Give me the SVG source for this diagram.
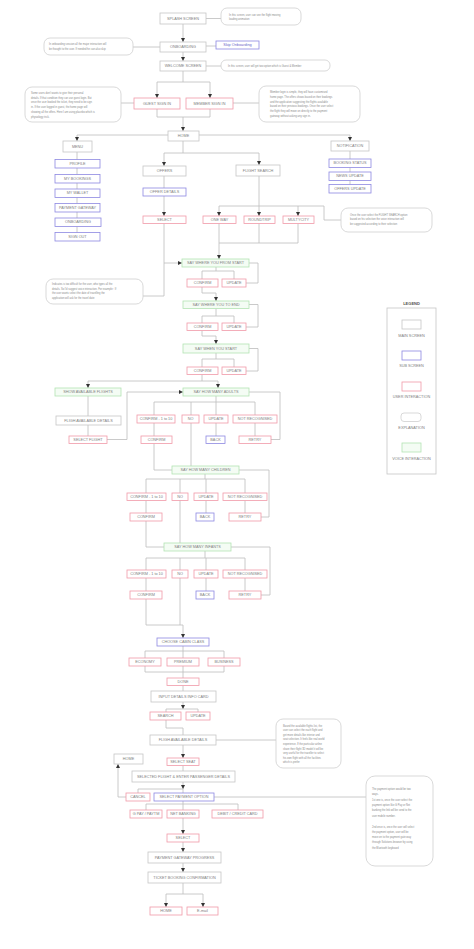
<svg xmlns="http://www.w3.org/2000/svg" width="474" height="949" viewBox="0 0 474 949">
<style>
.g{fill:#fff;stroke:#c6c6c6;stroke-width:0.8}
.b{fill:#fff;stroke:#8d88e2;stroke-width:0.8}
.r{fill:#fff;stroke:#f19aa8;stroke-width:0.8}
.v{fill:#f4fcf4;stroke:#b3e3b3;stroke-width:0.8}
.e{fill:#fff;stroke:#cfcfcf;stroke-width:0.8}
.c{fill:none;stroke:#bdbdbd;stroke-width:0.8}
.t{font-family:"Liberation Sans",Arial,sans-serif;font-size:3.8px;fill:#808080;text-anchor:middle;dominant-baseline:central}
.n{font-family:"Liberation Sans",Arial,sans-serif;font-size:2.6px;fill:#8a8a8a}
.h{font-family:"Liberation Sans",Arial,sans-serif;font-size:4px;font-weight:bold;fill:#555;text-anchor:middle}
</style>
<defs>
<marker id="a" viewBox="0 0 4 4" refX="4" refY="2" markerWidth="4" markerHeight="4" markerUnits="userSpaceOnUse" orient="auto"><path d="M0,0 L4,2 L0,4 z" fill="#333"/></marker>
</defs>
<rect width="474" height="949" fill="#fff"/>
<g id="connectors">
<path class="c" d="M183,24 V42" marker-end="url(#a)"/>
<path class="c" d="M206,18.5 H221"/>
<path class="c" d="M206,46 H216"/>
<path class="c" d="M160,47 H133"/>
<path class="c" d="M183,52 V61" marker-end="url(#a)"/>
<path class="c" d="M206,66 H221"/>
<path class="c" d="M183,71 V82 M157,82 H210"/>
<path class="c" d="M157,82 V98" marker-end="url(#a)"/>
<path class="c" d="M210,82 V98" marker-end="url(#a)"/>
<path class="c" d="M157,109 V117 H210 V109"/>
<path class="c" d="M183,117 V131" marker-end="url(#a)"/>
<path class="c" d="M134,103 H121"/>
<path class="c" d="M233,103 H259"/>
<path class="c" d="M77,135 H350"/>
<path class="c" d="M77,135 V141" marker-end="url(#a)"/>
<path class="c" d="M350,135 V141" marker-end="url(#a)"/>
<path class="c" d="M183,141 V153 M164,153 H259"/>
<path class="c" d="M164,153 V166" marker-end="url(#a)"/>
<path class="c" d="M259,153 V165" marker-end="url(#a)"/>
<path class="c" d="M77,152 V233"/>
<path class="c" d="M350,151 V185"/>
<path class="c" d="M164,176 V188"/>
<path class="c" d="M164,196 V216" marker-end="url(#a)"/>
<path class="c" d="M259,176 V206 M219,206 H298"/>
<path class="c" d="M219,206 V216" marker-end="url(#a)"/>
<path class="c" d="M259,206 V216" marker-end="url(#a)"/>
<path class="c" d="M298,206 V216" marker-end="url(#a)"/>
<path class="c" d="M298,206 H324 V220 H341"/>
<path class="c" d="M219,223.5 V243 M259,223.5 V243 M298,223.5 V243 M219,243 H298"/>
<path class="c" d="M219,243 V259" marker-end="url(#a)"/>
<path class="c" d="M164,223.5 V263 H182" marker-end="url(#a)"/>
<path class="c" d="M143,296 H164 V263"/>
<path class="c" d="M216,267 V271 M202,271 H234 M202,271 V279 M234,271 V279"/>
<path class="c" d="M249,263 H258 V283 H246"/>
<path class="c" d="M202,287 V293 H216 V301" marker-end="url(#a)"/>
<path class="c" d="M216,308.5 V316 M202,316 H234 M202,316 V323 M234,316 V323"/>
<path class="c" d="M249,304.5 H258 V327 H246"/>
<path class="c" d="M202,330.5 V336 H216 V344" marker-end="url(#a)"/>
<path class="c" d="M216,353 V359 M202,359 H234 M202,359 V367 M234,359 V367"/>
<path class="c" d="M249,348.5 H258 V371 H246"/>
<path class="c" d="M202,374.5 V381 M88,381 H218"/>
<path class="c" d="M88,381 V388" marker-end="url(#a)"/>
<path class="c" d="M218,381 V388" marker-end="url(#a)"/>
<path class="c" d="M88,396 V436"/>
<path class="c" d="M107,439.5 H127 V392 H183" marker-end="url(#a)"/>
<path class="c" d="M216,396 V402 M154,402 H255 M154,402 V415 M191,402 V466 M216,402 V415 M255,402 V415"/>
<path class="c" d="M154,423 V436 M154,443.5 V470 H172 M216,423 V436 M255,423 V436"/>
<path class="c" d="M249,392 H280 V439.5 H271"/>
<path class="c" d="M205,474 V479 M146,479 H245 M146,479 V493 M180,479 V543 M206,479 V493 M245,479 V493"/>
<path class="c" d="M146,500.5 V513 M146,521 V547 H164 M206,500.5 V513 M245,500.5 V513"/>
<path class="c" d="M239,470 H269 V517 H261"/>
<path class="c" d="M205,551 V558 M146,558 H245 M146,558 V570 M180,558 V625 M206,558 V570 M245,558 V570"/>
<path class="c" d="M146,578 V591 M206,578 V591 M245,578 V591"/>
<path class="c" d="M231,547 H270 V595 H261"/>
<path class="c" d="M146,599 V625 H183 V638" marker-end="url(#a)"/>
<path class="c" d="M183,646 V651 M145,651 H224 M145,651 V658 M183,651 V658 M224,651 V658"/>
<path class="c" d="M145,666 V672 H224 V666 M183,666 V678"/>
<path class="c" d="M183,685.5 V691"/>
<path class="c" d="M183,702 V709" marker-end="url(#a)"/>
<path class="c" d="M166,709 H198 M166,709 V712 M198,709 V712"/>
<path class="c" d="M166,720 V728 H183 V735"/>
<path class="c" d="M216,740 H276"/>
<path class="c" d="M183,745 V758" marker-end="url(#a)"/>
<path class="c" d="M183,765.5 V771"/>
<path class="c" d="M183,782 V789" marker-end="url(#a)"/>
<path class="c" d="M138,789 H183 M138,789 V793 M183,789 V793"/>
<path class="c" d="M126,797 H118 V764" marker-end="url(#a)"/>
<path class="c" d="M214,797 H366"/>
<path class="c" d="M183,801 V804 M146,804 H238 M146,804 V810 M183,804 V810 M238,804 V810"/>
<path class="c" d="M183,818 V834" marker-end="url(#a)"/>
<path class="c" d="M183,842 V852" marker-end="url(#a)"/>
<path class="c" d="M183,863 V872" marker-end="url(#a)"/>
<path class="c" d="M183,883 V894 M166,894 H203"/>
<path class="c" d="M166,894 V907" marker-end="url(#a)"/>
<path class="c" d="M203,894 V907" marker-end="url(#a)"/>
</g>
<g id="splash"><rect class="g" x="160" y="13" width="46" height="11"/><text class="t" x="183" y="18.5">SPLASH SCREEN</text></g>
<g id="splash-note"><rect class="e" x="221" y="8" width="80" height="17" rx="6"/><text class="n" x="229" y="15.5">In this screen, user can see the flight moving<tspan x="229" dy="4.3">loading animation</tspan></text></g>
<g id="onboarding"><rect class="g" x="160" y="42" width="46" height="10"/><text class="t" x="183" y="47">ONBOARDING</text></g>
<g id="skip"><rect class="b" x="216" y="41" width="43" height="8"/><text class="t" x="237.5" y="45" style="fill:#6c66c8">Skip Onboarding</text></g>
<g id="onboarding-note"><rect class="e" x="44" y="38" width="89" height="17" rx="6"/><text class="n" x="49" y="45">In onboarding session all the major interaction will<tspan x="49" dy="4.5">be thought to the user. If needed he can also skip</tspan></text></g>
<g id="welcome"><rect class="g" x="160" y="61" width="46" height="10"/><text class="t" x="183" y="66">WELCOME SCREEN</text></g>
<g id="welcome-note"><rect class="e" x="221" y="60" width="109" height="11" rx="5"/><text class="n" x="228" y="66.8">In this screen, user will get two option which is Guest &amp; Member</text></g>
<g id="guest"><rect class="r" x="134" y="98" width="46" height="11"/><text class="t" x="157" y="103.5">GUEST SIGN IN</text></g>
<g id="member"><rect class="r" x="186" y="98" width="47" height="11"/><text class="t" x="209.5" y="103.5">MEMBER SIGN IN</text></g>
<g id="guest-note"><rect class="e" x="25" y="87" width="96" height="35" rx="7"/><text class="n" x="31" y="94">Some users don't wants to give their personal<tspan x="31" dy="4.7">details. If that condition they can use guest login. But</tspan><tspan x="31" dy="4.7">once the user booked the ticket, they need to be sign</tspan><tspan x="31" dy="4.7">in. If the user logged in guest, the home page will</tspan><tspan x="31" dy="4.7">showing all the offers. Here I am using placebo which is</tspan><tspan x="31" dy="4.7">physiology trick.</tspan></text></g>
<g id="member-note"><rect class="e" x="259" y="86" width="101" height="36" rx="7"/><text class="n" x="270" y="93">Member login is simple, they will have customised<tspan x="270" dy="4.8">home page. The offers shows based on their bookings</tspan><tspan x="270" dy="4.8">and the application suggesting the flights available</tspan><tspan x="270" dy="4.8">based on their previous bookings. Once the user select</tspan><tspan x="270" dy="4.8">the flight they will move on directly to the payment</tspan><tspan x="270" dy="4.8">gateway without asking any sign in.</tspan></text></g>
<g id="home"><rect class="g" x="168" y="131" width="31" height="10"/><text class="t" x="183.5" y="136">HOME</text></g>
<g id="menu"><rect class="g" x="63" y="141" width="29" height="11"/><text class="t" x="77.5" y="146.5">MENU</text></g>
<g id="notification"><rect class="g" x="331" y="141" width="38" height="10"/><text class="t" x="350" y="146">NOTIFICATION</text></g>
<g id="profile"><rect class="b" x="55" y="159.5" width="45" height="8.5"/><text class="t" x="77.5" y="163.8">PROFILE</text></g>
<g id="my-bookings"><rect class="b" x="55" y="174.5" width="45" height="8.5"/><text class="t" x="77.5" y="178.8">MY BOOKINGS</text></g>
<g id="my-wallet"><rect class="b" x="55" y="189" width="45" height="8.5"/><text class="t" x="77.5" y="193.3">MY WALLET</text></g>
<g id="payment-gateway"><rect class="b" x="55" y="203.5" width="45" height="8.5"/><text class="t" x="77.5" y="207.8">PAYMENT GATEWAY</text></g>
<g id="menu-onboarding"><rect class="b" x="55" y="218" width="46" height="8.5"/><text class="t" x="78" y="222.3">ONBOARDING</text></g>
<g id="sign-out"><rect class="b" x="55" y="232.5" width="45" height="8.5"/><text class="t" x="77.5" y="236.8">SIGN OUT</text></g>
<g id="booking-status"><rect class="b" x="329" y="159" width="42" height="8.5"/><text class="t" x="350" y="163.3">BOOKING STATUS</text></g>
<g id="news-update"><rect class="b" x="329" y="172" width="42" height="8.5"/><text class="t" x="350" y="176.3">NEWS UPDATE</text></g>
<g id="offers-update"><rect class="b" x="329" y="184.5" width="42" height="8.5"/><text class="t" x="350" y="188.8">OFFERS UPDATE</text></g>
<g id="offers"><rect class="g" x="143" y="166" width="43" height="10"/><text class="t" x="164.5" y="171">OFFERS</text></g>
<g id="flight-search"><rect class="g" x="236" y="165" width="44" height="11"/><text class="t" x="258" y="170.5">FLIGHT SEARCH</text></g>
<g id="offer-details"><rect class="b" x="143" y="188" width="43" height="8"/><text class="t" x="164.5" y="192">OFFER DETAILS</text></g>
<g id="select-offer"><rect class="r" x="143" y="216" width="43" height="7.5"/><text class="t" x="164.5" y="219.8">SELECT</text></g>
<g id="one-way"><rect class="r" x="203" y="216" width="33" height="7.5"/><text class="t" x="219.5" y="219.8">ONE WAY</text></g>
<g id="roundtrip"><rect class="r" x="244" y="216" width="31" height="7.5"/><text class="t" x="259.5" y="219.8">ROUNDTRIP</text></g>
<g id="multicity"><rect class="r" x="283" y="216" width="31" height="7.5"/><text class="t" x="298.5" y="219.8">MULTYCITY</text></g>
<g id="search-note"><rect class="e" x="341" y="208" width="91" height="24" rx="7"/><text class="n" x="350" y="215.5">Once the user select the FLIGHT SEARCH option<tspan x="350" dy="4.6">based on his selection the voice interaction will</tspan><tspan x="350" dy="4.6">be suggested according to their selection</tspan></text></g>
<g id="voice-note"><rect class="e" x="46" y="279" width="97" height="25" rx="7"/><text class="n" x="52" y="285">Indicates is too difficult for the user, who types all the<tspan x="52" dy="4.6">details. So I'd suggest voice interaction. For example : If</tspan><tspan x="52" dy="4.6">the user wants select the date of travelling the</tspan><tspan x="52" dy="4.6">application will ask for the travel date</tspan></text></g>
<g id="say-from"><rect class="v" x="182" y="259" width="67" height="8"/><text class="t" x="215.5" y="263">SAY WHERE YOU FROM START</text></g>
<g id="confirm-1"><rect class="r" x="187" y="279" width="31" height="8"/><text class="t" x="202.5" y="283">CONFIRM</text></g>
<g id="update-1"><rect class="r" x="222" y="279" width="24" height="8"/><text class="t" x="234" y="283">UPDATE</text></g>
<g id="say-to"><rect class="v" x="183" y="301" width="66" height="7.5"/><text class="t" x="216" y="304.8">SAY WHERE YOU TO END</text></g>
<g id="confirm-2"><rect class="r" x="187" y="323" width="31" height="7.5"/><text class="t" x="202.5" y="326.8">CONFIRM</text></g>
<g id="update-2"><rect class="r" x="222" y="323" width="24" height="7.5"/><text class="t" x="234" y="326.8">UPDATE</text></g>
<g id="say-when"><rect class="v" x="183" y="344" width="66" height="9"/><text class="t" x="216" y="348.5">SAY WHEN YOU START</text></g>
<g id="confirm-3"><rect class="r" x="187" y="367" width="31" height="7.5"/><text class="t" x="202.5" y="370.8">CONFIRM</text></g>
<g id="update-3"><rect class="r" x="222" y="367" width="24" height="7.5"/><text class="t" x="234" y="370.8">UPDATE</text></g>
<g id="show-flights"><rect class="v" x="55" y="388" width="66" height="8"/><text class="t" x="88" y="392">SHOW AVAILABLE FLIGHTS</text></g>
<g id="flight-details-1"><rect class="g" x="56" y="416" width="65" height="9"/><text class="t" x="88.5" y="420.5">FLIGH AVAILABLE DETAILS</text></g>
<g id="select-flight"><rect class="r" x="69" y="436" width="38" height="7.5"/><text class="t" x="88" y="439.8">SELECT FLIGHT</text></g>
<g id="adults"><rect class="v" x="183" y="388" width="66" height="8"/><text class="t" x="216" y="392">SAY HOW MANY ADULTS</text></g>
<g id="a-confirm-range"><rect class="r" x="137" y="415" width="38" height="8"/><text class="t" x="156" y="419">CONFIRM - 1 to 10</text></g>
<g id="a-no"><rect class="r" x="182" y="415" width="17" height="8"/><text class="t" x="190.5" y="419">NO</text></g>
<g id="a-update"><rect class="r" x="204" y="415" width="24" height="8"/><text class="t" x="216" y="419">UPDATE</text></g>
<g id="a-notrec"><rect class="r" x="233" y="415" width="44" height="8"/><text class="t" x="255" y="419">NOT RECOGNISED</text></g>
<g id="a-confirm"><rect class="r" x="141" y="436" width="31" height="7.5"/><text class="t" x="156.5" y="439.8">CONFIRM</text></g>
<g id="a-back"><rect class="b" x="206" y="436" width="19" height="7.5"/><text class="t" x="215.5" y="439.8">BACK</text></g>
<g id="a-retry"><rect class="r" x="239" y="436" width="32" height="7.5"/><text class="t" x="255" y="439.8">RETRY</text></g>
<g id="children"><rect class="v" x="172" y="466" width="67" height="8"/><text class="t" x="205.5" y="470">SAY HOW MANY CHILDREN</text></g>
<g id="c-confirm-range"><rect class="r" x="127" y="493" width="39" height="7.5"/><text class="t" x="146.5" y="496.8">CONFIRM - 1 to 10</text></g>
<g id="c-no"><rect class="r" x="172" y="493" width="16" height="7.5"/><text class="t" x="180" y="496.8">NO</text></g>
<g id="c-update"><rect class="r" x="194" y="493" width="24" height="7.5"/><text class="t" x="206" y="496.8">UPDATE</text></g>
<g id="c-notrec"><rect class="r" x="223" y="493" width="44" height="7.5"/><text class="t" x="245" y="496.8">NOT RECOGNISED</text></g>
<g id="c-confirm"><rect class="r" x="130" y="513" width="32" height="8"/><text class="t" x="146" y="517">CONFIRM</text></g>
<g id="c-back"><rect class="b" x="196" y="513" width="18" height="8"/><text class="t" x="205" y="517">BACK</text></g>
<g id="c-retry"><rect class="r" x="229" y="513" width="32" height="8"/><text class="t" x="245" y="517">RETRY</text></g>
<g id="infants"><rect class="v" x="164" y="543" width="67" height="8"/><text class="t" x="197.5" y="547">SAY HOW  MANY INFANTS</text></g>
<g id="i-confirm-range"><rect class="r" x="127" y="570" width="39" height="8"/><text class="t" x="146.5" y="574">CONFIRM - 1 to 10</text></g>
<g id="i-no"><rect class="r" x="172" y="570" width="16" height="8"/><text class="t" x="180" y="574">NO</text></g>
<g id="i-update"><rect class="r" x="194" y="570" width="24" height="8"/><text class="t" x="206" y="574">UPDATE</text></g>
<g id="i-notrec"><rect class="r" x="223" y="570" width="44" height="8"/><text class="t" x="245" y="574">NOT RECOGNISED</text></g>
<g id="i-confirm"><rect class="r" x="130" y="591" width="32" height="8"/><text class="t" x="146" y="595">CONFIRM</text></g>
<g id="i-back"><rect class="b" x="196" y="591" width="18" height="8"/><text class="t" x="205" y="595">BACK</text></g>
<g id="i-retry"><rect class="r" x="229" y="591" width="32" height="8"/><text class="t" x="245" y="595">RETRY</text></g>
<g id="cabin"><rect class="b" x="157" y="638" width="52" height="8"/><text class="t" x="183" y="642">CHOOSE CABIN CLASS</text></g>
<g id="economy"><rect class="r" x="129" y="658" width="32" height="8"/><text class="t" x="145" y="662">ECONOMY</text></g>
<g id="premium"><rect class="r" x="167" y="658" width="32" height="8"/><text class="t" x="183" y="662">PREMIUM</text></g>
<g id="business"><rect class="r" x="208" y="658" width="32" height="8"/><text class="t" x="224" y="662">BUSINESS</text></g>
<g id="done"><rect class="r" x="167" y="678" width="32" height="7.5"/><text class="t" x="183" y="681.8">DONE</text></g>
<g id="input-details"><rect class="g" x="151" y="691" width="65" height="11"/><text class="t" x="183.5" y="696.5">INPUT DETAILS INFO CARD</text></g>
<g id="search"><rect class="r" x="150" y="712" width="31" height="8"/><text class="t" x="165.5" y="716">SEARCH</text></g>
<g id="search-update"><rect class="r" x="186" y="712" width="24" height="8"/><text class="t" x="198" y="716">UPDATE</text></g>
<g id="flight-details-2"><rect class="g" x="150" y="735" width="66" height="10"/><text class="t" x="183" y="740">FLIGH AVAILABLE DETAILS</text></g>
<g id="seat-note"><rect class="e" x="276" y="719" width="65" height="49" rx="7"/><text class="n" x="283" y="726.5">Based the available flights list, the<tspan x="283" dy="4.6">user can select the each flight and</tspan><tspan x="283" dy="4.6">get more details like interior and</tspan><tspan x="283" dy="4.6">seat selection. It feels like real world</tspan><tspan x="283" dy="4.6">experience. If the particular airline</tspan><tspan x="283" dy="4.6">share their flight 3D model it will be</tspan><tspan x="283" dy="4.6">very useful for the traveller to select</tspan><tspan x="283" dy="4.6">his own flight with all the facilities</tspan><tspan x="283" dy="4.6">which is prefer</tspan></text></g>
<g id="select-seat"><rect class="r" x="167" y="758" width="32" height="7.5"/><text class="t" x="183" y="761.8">SELECT SEAT</text></g>
<g id="home-2"><rect class="g" x="114" y="754" width="29" height="10"/><text class="t" x="128.5" y="759">HOME</text></g>
<g id="passenger"><rect class="g" x="132" y="771" width="103" height="11"/><text class="t" x="183.5" y="776.5">SELECTED FLIGHT &amp; ENTER PASSENGER DETAILS</text></g>
<g id="cancel"><rect class="r" x="126" y="793" width="24" height="8"/><text class="t" x="138" y="797">CANCEL</text></g>
<g id="payment-option"><rect class="b" x="154" y="793" width="60" height="8"/><text class="t" x="184" y="797">SELECT PAYMENT OPTION</text></g>
<g id="payment-note"><rect class="e" x="366" y="776" width="67" height="90" rx="9"/><text class="n" x="372" y="790">The payment option would be two<tspan x="372" dy="5.3">ways.</tspan><tspan x="372" dy="5.3">1st one is, once the user select the</tspan><tspan x="372" dy="5.3">payment option like G Pay or Net</tspan><tspan x="372" dy="5.3">banking the link will be send to the</tspan><tspan x="372" dy="5.3">user mobile number.</tspan><tspan x="372" dy="11">2nd once is, once the user will select</tspan><tspan x="372" dy="5.3">the payment option, user will be</tspan><tspan x="372" dy="5.3">move on to the payment gate way</tspan><tspan x="372" dy="5.3">through Solutions browser by using</tspan><tspan x="372" dy="5.3">the Bluetooth keyboard</tspan></text></g>
<g id="gpay"><rect class="r" x="130" y="810" width="32" height="8"/><text class="t" x="146" y="814">G PAY / PAYTM</text></g>
<g id="net-banking"><rect class="r" x="167" y="810" width="32" height="8"/><text class="t" x="183" y="814">NET BANKING</text></g>
<g id="card"><rect class="r" x="212" y="810" width="51" height="8"/><text class="t" x="237.5" y="814">DEBIT / CREDIT CARD</text></g>
<g id="select-pay"><rect class="r" x="167" y="834" width="32" height="8"/><text class="t" x="183" y="838">SELECT</text></g>
<g id="gateway-progress"><rect class="g" x="148" y="852" width="73" height="11"/><text class="t" x="184.5" y="857.5">PAYMENT GATEWAY PROGRESS</text></g>
<g id="ticket"><rect class="g" x="148" y="872" width="73" height="11"/><text class="t" x="184.5" y="877.5">TICKET BOOKING CONFIRMATION</text></g>
<g id="home-3"><rect class="r" x="150" y="907" width="32" height="8"/><text class="t" x="166" y="911">HOME</text></g>
<g id="email"><rect class="r" x="187" y="907" width="31" height="8"/><text class="t" x="202.5" y="911">E-mail</text></g>
<g id="legend">
<text class="h" x="411.5" y="305">LEGEND</text>
<rect class="g" x="387" y="308" width="49" height="166"/>
<rect class="g" x="402" y="320" width="19" height="9"/><text class="t" x="411.5" y="335.5">MAIN SCREEN</text>
<rect class="b" x="402" y="351" width="19" height="9"/><text class="t" x="411.5" y="366">SUB SCREEN</text>
<rect class="r" x="402" y="382" width="19" height="9"/><text class="t" x="411.5" y="397">USER INTERACTION</text>
<rect class="e" x="401" y="413" width="20" height="8.5" rx="3"/><text class="t" x="411.5" y="427.5">EXPLANATION</text>
<rect class="v" x="402" y="443" width="19" height="9"/><text class="t" x="411.5" y="458.5">VOICE INTERACTION</text>
</g>
</svg>
